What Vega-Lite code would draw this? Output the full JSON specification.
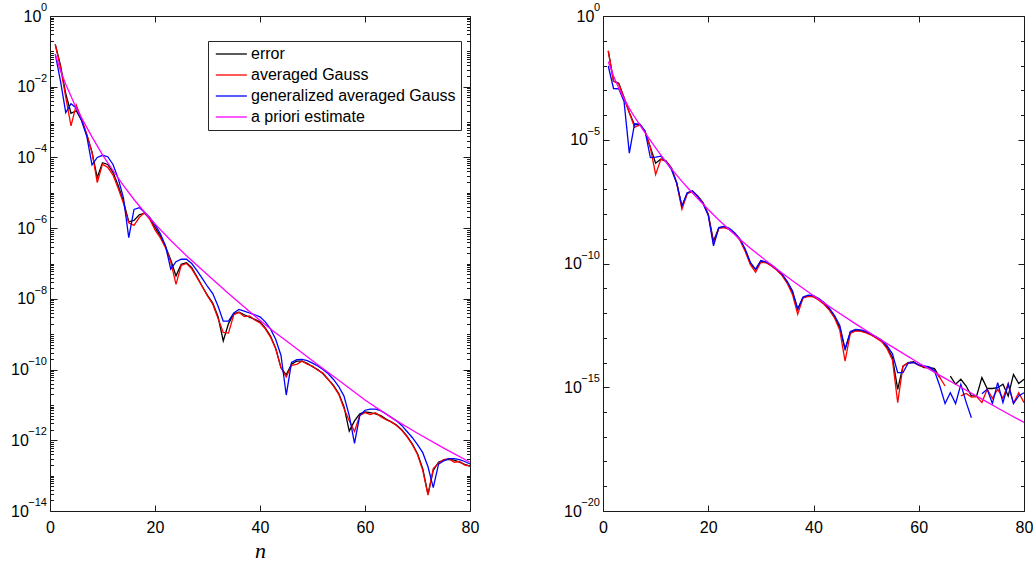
{
  "$schema": "https://vega.github.io/schema/vega-lite/v6.json",
  "background": "white",
  "padding": {"left": 10, "top": 2, "right": 0, "bottom": 0},
  "bounds": "flush",
  "spacing": 133,
  "config": {
    "font": "Liberation Sans",
    "view": {"stroke": null},
    "axis": {"grid": false, "labelFont": "Liberation Sans", "labelFontSize": 16, "labelColor": "#000000", "domainColor": "#1a1a1a", "tickColor": "#1a1a1a", "labelFlush": false, "labelOverlap": false, "labelBound": false},
    "legend": {"title": null, "symbolType": "M-1,0H5", "symbolSize": 107, "symbolStrokeWidth": 1.3, "labelFont": "Liberation Sans", "labelFontSize": 16, "labelColor": "#000000", "labelLimit": 400, "labelOffset": 22, "padding": 5, "rowPadding": 5, "strokeColor": "#262626", "fillColor": "#ffffff"}
  },
  "datasets": {
    "leftTicks": [
      {"v":1,"exp":"0"},{"v":1e-2,"exp":"−2"},{"v":1e-4,"exp":"−4"},{"v":1e-6,"exp":"−6"},
      {"v":1e-8,"exp":"−8"},{"v":1e-10,"exp":"−10"},{"v":1e-12,"exp":"−12"},{"v":1e-14,"exp":"−14"}
    ],
    "rightTicks": [
      {"v":1,"exp":"0"},{"v":1e-5,"exp":"−5"},{"v":1e-10,"exp":"−10"},{"v":1e-15,"exp":"−15"},{"v":1e-20,"exp":"−20"}
    ],
    "left": [
      {"n":1,"error":1.585e-1,"averaged Gauss":1.585e-1,"generalized averaged Gauss":8.318e-2},
      {"n":2,"error":3.981e-2,"averaged Gauss":3.548e-2,"generalized averaged Gauss":1.445e-2},
      {"n":3,"error":6.310e-3,"averaged Gauss":5.012e-3,"generalized averaged Gauss":1.862e-3},
      {"n":4,"error":1.778e-3,"averaged Gauss":7.762e-4,"generalized averaged Gauss":3.311e-3},
      {"n":5,"error":2.089e-3,"averaged Gauss":3.020e-3,"generalized averaged Gauss":2.512e-3},
      {"n":6,"error":1.122e-3,"averaged Gauss":1.259e-3,"generalized averaged Gauss":1.122e-3},
      {"n":7,"error":4.467e-4,"averaged Gauss":4.467e-4,"generalized averaged Gauss":3.981e-4},
      {"n":8,"error":1.413e-4,"averaged Gauss":1.413e-4,"generalized averaged Gauss":6.166e-5},
      {"n":9,"error":2.692e-5,"averaged Gauss":1.950e-5,"generalized averaged Gauss":1.000e-4},
      {"n":10,"error":7.079e-5,"averaged Gauss":6.457e-5,"generalized averaged Gauss":1.148e-4},
      {"n":11,"error":6.310e-5,"averaged Gauss":5.248e-5,"generalized averaged Gauss":1.047e-4},
      {"n":12,"error":3.802e-5,"averaged Gauss":3.162e-5,"generalized averaged Gauss":6.310e-5},
      {"n":13,"error":1.585e-5,"averaged Gauss":1.318e-5,"generalized averaged Gauss":2.512e-5},
      {"n":14,"error":5.623e-6,"averaged Gauss":5.012e-6,"generalized averaged Gauss":7.079e-6},
      {"n":15,"error":1.514e-6,"averaged Gauss":1.413e-6,"generalized averaged Gauss":5.370e-7},
      {"n":16,"error":1.660e-6,"averaged Gauss":1.202e-6,"generalized averaged Gauss":3.388e-6},
      {"n":17,"error":2.399e-6,"averaged Gauss":1.995e-6,"generalized averaged Gauss":3.802e-6},
      {"n":18,"error":2.630e-6,"averaged Gauss":2.754e-6,"generalized averaged Gauss":2.818e-6},
      {"n":19,"error":1.905e-6,"averaged Gauss":1.778e-6,"generalized averaged Gauss":1.995e-6},
      {"n":20,"error":1.047e-6,"averaged Gauss":8.913e-7,"generalized averaged Gauss":1.259e-6},
      {"n":21,"error":6.026e-7,"averaged Gauss":5.370e-7,"generalized averaged Gauss":7.079e-7},
      {"n":22,"error":3.020e-7,"averaged Gauss":2.818e-7,"generalized averaged Gauss":3.162e-7},
      {"n":23,"error":1.259e-7,"averaged Gauss":1.122e-7,"generalized averaged Gauss":6.918e-8},
      {"n":24,"error":4.467e-8,"averaged Gauss":2.570e-8,"generalized averaged Gauss":1.122e-7},
      {"n":25,"error":9.550e-8,"averaged Gauss":8.913e-8,"generalized averaged Gauss":1.318e-7},
      {"n":26,"error":1.047e-7,"averaged Gauss":1.000e-7,"generalized averaged Gauss":1.318e-7},
      {"n":27,"error":7.586e-8,"averaged Gauss":7.079e-8,"generalized averaged Gauss":1.000e-7},
      {"n":28,"error":4.169e-8,"averaged Gauss":3.981e-8,"generalized averaged Gauss":6.310e-8},
      {"n":29,"error":2.239e-8,"averaged Gauss":2.239e-8,"generalized averaged Gauss":3.802e-8},
      {"n":30,"error":1.259e-8,"averaged Gauss":1.202e-8,"generalized averaged Gauss":2.239e-8},
      {"n":31,"error":7.586e-9,"averaged Gauss":7.079e-9,"generalized averaged Gauss":1.413e-8},
      {"n":32,"error":3.162e-9,"averaged Gauss":2.818e-9,"generalized averaged Gauss":6.310e-9},
      {"n":33,"error":6.457e-10,"averaged Gauss":1.122e-9,"generalized averaged Gauss":2.344e-9},
      {"n":34,"error":1.995e-9,"averaged Gauss":1.072e-9,"generalized averaged Gauss":2.344e-9},
      {"n":35,"error":3.802e-9,"averaged Gauss":3.548e-9,"generalized averaged Gauss":3.981e-9},
      {"n":36,"error":4.169e-9,"averaged Gauss":4.169e-9,"generalized averaged Gauss":5.012e-9},
      {"n":37,"error":3.548e-9,"averaged Gauss":3.162e-9,"generalized averaged Gauss":4.467e-9},
      {"n":38,"error":3.020e-9,"averaged Gauss":3.311e-9,"generalized averaged Gauss":3.981e-9},
      {"n":39,"error":2.630e-9,"averaged Gauss":2.512e-9,"generalized averaged Gauss":3.548e-9},
      {"n":40,"error":2.239e-9,"averaged Gauss":2.089e-9,"generalized averaged Gauss":3.090e-9},
      {"n":41,"error":1.514e-9,"averaged Gauss":1.413e-9,"generalized averaged Gauss":2.239e-9},
      {"n":42,"error":8.913e-10,"averaged Gauss":8.318e-10,"generalized averaged Gauss":1.413e-9},
      {"n":43,"error":3.981e-10,"averaged Gauss":3.802e-10,"generalized averaged Gauss":7.079e-10},
      {"n":44,"error":1.122e-10,"averaged Gauss":1.122e-10,"generalized averaged Gauss":2.512e-10},
      {"n":45,"error":7.079e-11,"averaged Gauss":6.166e-11,"generalized averaged Gauss":1.905e-11},
      {"n":46,"error":1.413e-10,"averaged Gauss":1.318e-10,"generalized averaged Gauss":1.585e-10},
      {"n":47,"error":1.738e-10,"averaged Gauss":1.413e-10,"generalized averaged Gauss":1.905e-10},
      {"n":48,"error":1.738e-10,"averaged Gauss":1.738e-10,"generalized averaged Gauss":1.950e-10},
      {"n":49,"error":1.514e-10,"averaged Gauss":1.413e-10,"generalized averaged Gauss":1.778e-10},
      {"n":50,"error":1.202e-10,"averaged Gauss":1.259e-10,"generalized averaged Gauss":1.514e-10},
      {"n":51,"error":1.000e-10,"averaged Gauss":9.550e-11,"generalized averaged Gauss":1.259e-10},
      {"n":52,"error":7.586e-11,"averaged Gauss":7.943e-11,"generalized averaged Gauss":1.000e-10},
      {"n":53,"error":5.248e-11,"averaged Gauss":5.248e-11,"generalized averaged Gauss":7.586e-11},
      {"n":54,"error":3.548e-11,"averaged Gauss":3.388e-11,"generalized averaged Gauss":5.248e-11},
      {"n":55,"error":2.089e-11,"averaged Gauss":1.995e-11,"generalized averaged Gauss":3.311e-11},
      {"n":56,"error":8.913e-12,"averaged Gauss":7.943e-12,"generalized averaged Gauss":1.778e-11},
      {"n":57,"error":1.820e-12,"averaged Gauss":3.548e-12,"generalized averaged Gauss":5.012e-12},
      {"n":58,"error":3.548e-12,"averaged Gauss":1.778e-12,"generalized averaged Gauss":8.128e-13},
      {"n":59,"error":5.623e-12,"averaged Gauss":5.012e-12,"generalized averaged Gauss":5.012e-12},
      {"n":60,"error":6.310e-12,"averaged Gauss":6.026e-12,"generalized averaged Gauss":7.079e-12},
      {"n":61,"error":6.026e-12,"averaged Gauss":5.370e-12,"generalized averaged Gauss":7.586e-12},
      {"n":62,"error":5.623e-12,"averaged Gauss":6.026e-12,"generalized averaged Gauss":7.586e-12},
      {"n":63,"error":5.012e-12,"averaged Gauss":4.677e-12,"generalized averaged Gauss":6.918e-12},
      {"n":64,"error":3.981e-12,"averaged Gauss":3.802e-12,"generalized averaged Gauss":5.623e-12},
      {"n":65,"error":3.311e-12,"averaged Gauss":3.311e-12,"generalized averaged Gauss":4.467e-12},
      {"n":66,"error":2.692e-12,"averaged Gauss":2.630e-12,"generalized averaged Gauss":3.548e-12},
      {"n":67,"error":1.995e-12,"averaged Gauss":1.905e-12,"generalized averaged Gauss":2.630e-12},
      {"n":68,"error":1.318e-12,"averaged Gauss":1.259e-12,"generalized averaged Gauss":1.778e-12},
      {"n":69,"error":7.943e-13,"averaged Gauss":7.586e-13,"generalized averaged Gauss":1.202e-12},
      {"n":70,"error":4.169e-13,"averaged Gauss":3.981e-13,"generalized averaged Gauss":7.586e-13},
      {"n":71,"error":1.585e-13,"averaged Gauss":1.413e-13,"generalized averaged Gauss":4.467e-13},
      {"n":72,"error":2.951e-14,"averaged Gauss":2.818e-14,"generalized averaged Gauss":1.778e-13},
      {"n":73,"error":1.413e-13,"averaged Gauss":1.585e-13,"generalized averaged Gauss":4.571e-14},
      {"n":74,"error":2.399e-13,"averaged Gauss":2.239e-13,"generalized averaged Gauss":2.089e-13},
      {"n":75,"error":2.754e-13,"averaged Gauss":2.818e-13,"generalized averaged Gauss":2.630e-13},
      {"n":76,"error":2.884e-13,"averaged Gauss":3.020e-13,"generalized averaged Gauss":3.020e-13},
      {"n":77,"error":2.754e-13,"averaged Gauss":2.399e-13,"generalized averaged Gauss":3.020e-13},
      {"n":78,"error":2.399e-13,"averaged Gauss":2.512e-13,"generalized averaged Gauss":2.818e-13},
      {"n":79,"error":2.089e-13,"averaged Gauss":1.995e-13,"generalized averaged Gauss":2.512e-13},
      {"n":80,"error":1.862e-13,"averaged Gauss":1.862e-13,"generalized averaged Gauss":2.138e-13}
    ],
    "leftEst": [
      {"n":1,"a priori estimate":8.318e-2},
      {"n":2,"a priori estimate":2.818e-2},
      {"n":3,"a priori estimate":1.175e-2},
      {"n":4,"a priori estimate":5.370e-3},
      {"n":5,"a priori estimate":2.512e-3},
      {"n":6,"a priori estimate":1.318e-3},
      {"n":8,"a priori estimate":3.802e-4},
      {"n":10,"a priori estimate":1.175e-4},
      {"n":12,"a priori estimate":4.266e-5},
      {"n":14,"a priori estimate":1.585e-5},
      {"n":16,"a priori estimate":6.457e-6},
      {"n":18,"a priori estimate":2.818e-6},
      {"n":20,"a priori estimate":1.318e-6},
      {"n":23,"a priori estimate":4.467e-7},
      {"n":26,"a priori estimate":1.660e-7},
      {"n":30,"a priori estimate":4.786e-8},
      {"n":34,"a priori estimate":1.413e-8},
      {"n":38,"a priori estimate":4.365e-9},
      {"n":42,"a priori estimate":1.413e-9},
      {"n":46,"a priori estimate":5.012e-10},
      {"n":50,"a priori estimate":1.778e-10},
      {"n":55,"a priori estimate":5.012e-11},
      {"n":60,"a priori estimate":1.380e-11},
      {"n":65,"a priori estimate":4.365e-12},
      {"n":70,"a priori estimate":1.585e-12},
      {"n":75,"a priori estimate":6.026e-13},
      {"n":80,"a priori estimate":2.399e-13}
    ],
    "right": [
      {"n":1,"error":3.890e-2,"averaged Gauss":3.890e-2,"generalized averaged Gauss":9.550e-3},
      {"n":2,"error":2.344e-3,"averaged Gauss":2.344e-3,"generalized averaged Gauss":1.175e-3},
      {"n":3,"error":1.905e-3,"averaged Gauss":1.738e-3,"generalized averaged Gauss":1.148e-3},
      {"n":4,"error":5.012e-4,"averaged Gauss":5.012e-4,"generalized averaged Gauss":3.548e-4},
      {"n":5,"error":1.259e-4,"averaged Gauss":1.230e-4,"generalized averaged Gauss":2.884e-6},
      {"n":6,"error":3.981e-5,"averaged Gauss":3.162e-5,"generalized averaged Gauss":4.467e-5},
      {"n":7,"error":4.169e-5,"averaged Gauss":3.981e-5,"generalized averaged Gauss":4.266e-5},
      {"n":8,"error":2.138e-5,"averaged Gauss":2.138e-5,"generalized averaged Gauss":2.239e-5},
      {"n":9,"error":5.012e-6,"averaged Gauss":4.786e-6,"generalized averaged Gauss":1.905e-6},
      {"n":10,"error":1.122e-6,"averaged Gauss":3.981e-7,"generalized averaged Gauss":1.995e-6},
      {"n":11,"error":1.660e-6,"averaged Gauss":1.622e-6,"generalized averaged Gauss":2.188e-6},
      {"n":12,"error":1.380e-6,"averaged Gauss":1.380e-6,"generalized averaged Gauss":1.259e-6},
      {"n":13,"error":7.413e-7,"averaged Gauss":7.079e-7,"generalized averaged Gauss":6.310e-7},
      {"n":14,"error":1.862e-7,"averaged Gauss":1.778e-7,"generalized averaged Gauss":1.778e-7},
      {"n":15,"error":1.905e-8,"averaged Gauss":1.549e-8,"generalized averaged Gauss":2.089e-8},
      {"n":16,"error":6.918e-8,"averaged Gauss":6.607e-8,"generalized averaged Gauss":7.244e-8},
      {"n":17,"error":8.511e-8,"averaged Gauss":7.943e-8,"generalized averaged Gauss":8.511e-8},
      {"n":18,"error":5.370e-8,"averaged Gauss":5.248e-8,"generalized averaged Gauss":5.012e-8},
      {"n":19,"error":2.884e-8,"averaged Gauss":2.818e-8,"generalized averaged Gauss":2.630e-8},
      {"n":20,"error":9.772e-9,"averaged Gauss":9.550e-9,"generalized averaged Gauss":8.913e-9},
      {"n":21,"error":7.943e-10,"averaged Gauss":6.310e-10,"generalized averaged Gauss":5.129e-10},
      {"n":22,"error":2.754e-9,"averaged Gauss":2.630e-9,"generalized averaged Gauss":2.818e-9},
      {"n":23,"error":3.020e-9,"averaged Gauss":2.818e-9,"generalized averaged Gauss":3.162e-9},
      {"n":24,"error":2.512e-9,"averaged Gauss":2.399e-9,"generalized averaged Gauss":2.630e-9},
      {"n":25,"error":1.622e-9,"averaged Gauss":1.585e-9,"generalized averaged Gauss":1.738e-9},
      {"n":26,"error":9.550e-10,"averaged Gauss":8.913e-10,"generalized averaged Gauss":1.000e-9},
      {"n":27,"error":3.548e-10,"averaged Gauss":3.162e-10,"generalized averaged Gauss":3.981e-10},
      {"n":28,"error":1.000e-10,"averaged Gauss":8.913e-11,"generalized averaged Gauss":1.122e-10},
      {"n":29,"error":5.754e-11,"averaged Gauss":4.467e-11,"generalized averaged Gauss":5.754e-11},
      {"n":30,"error":1.259e-10,"averaged Gauss":1.122e-10,"generalized averaged Gauss":1.318e-10},
      {"n":31,"error":1.122e-10,"averaged Gauss":1.072e-10,"generalized averaged Gauss":1.148e-10},
      {"n":32,"error":8.318e-11,"averaged Gauss":7.943e-11,"generalized averaged Gauss":8.913e-11},
      {"n":33,"error":5.623e-11,"averaged Gauss":5.495e-11,"generalized averaged Gauss":6.026e-11},
      {"n":34,"error":3.548e-11,"averaged Gauss":3.311e-11,"generalized averaged Gauss":3.802e-11},
      {"n":35,"error":1.778e-11,"averaged Gauss":1.585e-11,"generalized averaged Gauss":1.905e-11},
      {"n":36,"error":7.079e-12,"averaged Gauss":5.623e-12,"generalized averaged Gauss":7.943e-12},
      {"n":37,"error":1.413e-12,"averaged Gauss":8.913e-13,"generalized averaged Gauss":1.413e-12},
      {"n":38,"error":4.169e-12,"averaged Gauss":3.981e-12,"generalized averaged Gauss":4.467e-12},
      {"n":39,"error":5.012e-12,"averaged Gauss":4.677e-12,"generalized averaged Gauss":5.248e-12},
      {"n":40,"error":4.677e-12,"averaged Gauss":4.467e-12,"generalized averaged Gauss":5.012e-12},
      {"n":41,"error":3.548e-12,"averaged Gauss":3.311e-12,"generalized averaged Gauss":3.802e-12},
      {"n":42,"error":2.399e-12,"averaged Gauss":2.239e-12,"generalized averaged Gauss":2.630e-12},
      {"n":43,"error":1.413e-12,"averaged Gauss":1.318e-12,"generalized averaged Gauss":1.585e-12},
      {"n":44,"error":7.079e-13,"averaged Gauss":6.310e-13,"generalized averaged Gauss":7.943e-13},
      {"n":45,"error":2.512e-13,"averaged Gauss":1.995e-13,"generalized averaged Gauss":3.162e-13},
      {"n":46,"error":3.388e-14,"averaged Gauss":1.148e-14,"generalized averaged Gauss":3.388e-14},
      {"n":47,"error":1.622e-13,"averaged Gauss":1.514e-13,"generalized averaged Gauss":1.778e-13},
      {"n":48,"error":1.995e-13,"averaged Gauss":1.905e-13,"generalized averaged Gauss":2.188e-13},
      {"n":49,"error":1.905e-13,"averaged Gauss":1.820e-13,"generalized averaged Gauss":2.089e-13},
      {"n":50,"error":1.660e-13,"averaged Gauss":1.585e-13,"generalized averaged Gauss":1.778e-13},
      {"n":51,"error":1.318e-13,"averaged Gauss":1.259e-13,"generalized averaged Gauss":1.413e-13},
      {"n":52,"error":1.000e-13,"averaged Gauss":9.333e-14,"generalized averaged Gauss":1.072e-13},
      {"n":53,"error":7.413e-14,"averaged Gauss":6.761e-14,"generalized averaged Gauss":7.943e-14},
      {"n":54,"error":3.981e-14,"averaged Gauss":3.548e-14,"generalized averaged Gauss":4.677e-14},
      {"n":55,"error":1.585e-14,"averaged Gauss":1.259e-14,"generalized averaged Gauss":2.239e-14},
      {"n":56,"error":8.128e-16,"averaged Gauss":2.399e-16,"generalized averaged Gauss":3.890e-15},
      {"n":57,"error":7.079e-15,"averaged Gauss":7.079e-15,"generalized averaged Gauss":3.890e-15},
      {"n":58,"error":1.000e-14,"averaged Gauss":9.550e-15,"generalized averaged Gauss":9.550e-15},
      {"n":59,"error":1.072e-14,"averaged Gauss":1.000e-14,"generalized averaged Gauss":1.000e-14},
      {"n":60,"error":7.943e-15,"averaged Gauss":7.586e-15,"generalized averaged Gauss":7.943e-15},
      {"n":61,"error":6.166e-15,"averaged Gauss":6.607e-15,"generalized averaged Gauss":7.244e-15},
      {"n":62,"error":6.310e-15,"averaged Gauss":5.888e-15,"generalized averaged Gauss":6.607e-15},
      {"n":63,"error":5.623e-15,"averaged Gauss":4.677e-15,"generalized averaged Gauss":4.571e-15},
      {"n":64,"error":2.455e-15,"averaged Gauss":2.512e-15,"generalized averaged Gauss":1.122e-15},
      {"n":65,"error":null,"averaged Gauss":1.122e-15,"generalized averaged Gauss":2.188e-16},
      {"n":66,"error":2.818e-15,"averaged Gauss":null,"generalized averaged Gauss":6.026e-16},
      {"n":67,"error":1.318e-15,"averaged Gauss":null,"generalized averaged Gauss":2.188e-16},
      {"n":68,"error":2.089e-15,"averaged Gauss":4.467e-16,"generalized averaged Gauss":1.318e-15},
      {"n":69,"error":1.122e-15,"averaged Gauss":5.623e-16,"generalized averaged Gauss":2.512e-16},
      {"n":70,"error":4.467e-16,"averaged Gauss":3.981e-16,"generalized averaged Gauss":5.888e-17},
      {"n":71,"error":4.467e-16,"averaged Gauss":4.169e-16,"generalized averaged Gauss":null},
      {"n":72,"error":2.455e-15,"averaged Gauss":2.399e-16,"generalized averaged Gauss":5.495e-16},
      {"n":73,"error":8.913e-16,"averaged Gauss":8.318e-16,"generalized averaged Gauss":8.318e-16},
      {"n":74,"error":8.913e-16,"averaged Gauss":3.548e-16,"generalized averaged Gauss":2.188e-16},
      {"n":75,"error":9.550e-16,"averaged Gauss":8.318e-16,"generalized averaged Gauss":1.549e-15},
      {"n":76,"error":1.318e-15,"averaged Gauss":3.548e-16,"generalized averaged Gauss":2.399e-16},
      {"n":77,"error":4.467e-16,"averaged Gauss":1.413e-15,"generalized averaged Gauss":1.318e-15},
      {"n":78,"error":3.311e-15,"averaged Gauss":2.291e-16,"generalized averaged Gauss":2.188e-16},
      {"n":79,"error":1.413e-15,"averaged Gauss":6.026e-16,"generalized averaged Gauss":4.467e-16},
      {"n":80,"error":2.089e-15,"averaged Gauss":2.399e-16,"generalized averaged Gauss":6.026e-16}
    ],
    "rightEst": [
      {"n":1,"a priori estimate":1.413e-2},
      {"n":2,"a priori estimate":3.802e-3},
      {"n":3,"a priori estimate":1.202e-3},
      {"n":4,"a priori estimate":4.571e-4},
      {"n":5,"a priori estimate":1.862e-4},
      {"n":6,"a priori estimate":8.318e-5},
      {"n":7,"a priori estimate":3.981e-5},
      {"n":8,"a priori estimate":1.905e-5},
      {"n":9,"a priori estimate":9.333e-6},
      {"n":10,"a priori estimate":4.677e-6},
      {"n":11,"a priori estimate":2.399e-6},
      {"n":12,"a priori estimate":1.259e-6},
      {"n":13,"a priori estimate":6.761e-7},
      {"n":14,"a priori estimate":3.715e-7},
      {"n":15,"a priori estimate":2.089e-7},
      {"n":16,"a priori estimate":1.202e-7},
      {"n":18,"a priori estimate":4.169e-8},
      {"n":20,"a priori estimate":1.514e-8},
      {"n":22,"a priori estimate":5.754e-9},
      {"n":24,"a priori estimate":2.291e-9},
      {"n":26,"a priori estimate":9.550e-10},
      {"n":28,"a priori estimate":4.169e-10},
      {"n":30,"a priori estimate":1.905e-10},
      {"n":33,"a priori estimate":6.026e-11},
      {"n":36,"a priori estimate":1.995e-11},
      {"n":40,"a priori estimate":5.012e-12},
      {"n":44,"a priori estimate":1.318e-12},
      {"n":48,"a priori estimate":3.631e-13},
      {"n":52,"a priori estimate":1.047e-13},
      {"n":56,"a priori estimate":3.162e-14},
      {"n":60,"a priori estimate":9.550e-15},
      {"n":64,"a priori estimate":3.020e-15},
      {"n":68,"a priori estimate":1.000e-15},
      {"n":72,"a priori estimate":3.311e-16},
      {"n":76,"a priori estimate":1.096e-16},
      {"n":80,"a priori estimate":3.802e-17}
    ]
  },
  "hconcat": [
    {
      "width": 420,
      "height": 495,
      "layer": [
        {
          "data": {"name": "left"},
          "transform": [{"fold": ["error", "averaged Gauss", "generalized averaged Gauss"], "as": ["series", "value"]}],
          "mark": {"type": "line", "strokeWidth": 1.3, "invalid": "break-paths-filter-domains"},
          "encoding": {
            "x": {"field": "n", "type": "quantitative", "scale": {"domain": [0, 80], "nice": false},
                  "axis": {"orient": "bottom", "values": [0, 20, 40, 60, 80], "tickSize": -6, "labelPadding": 14, "title": "n", "titleFont": "Liberation Serif", "titleFontStyle": "italic", "titleFontWeight": "normal", "titleFontSize": 22, "titleColor": "#000000", "titlePadding": 5}},
            "y": {"field": "value", "type": "quantitative", "scale": {"type": "log", "domain": [1e-14, 1], "nice": false},
                  "axis": {"orient": "left", "tickCount": 200, "title": null,
                           "labelPadding": {"condition": [{"test": "datum.value > 0.5", "value": 16.1}, {"test": "datum.value > 5e-10", "value": 22.5}], "value": 28.7},
                           "tickSize": {"condition": {"test": "abs(log(datum.value)/LN10 - round(log(datum.value)/LN10)) < 0.001 && round(log(datum.value)/LN10) % 2 == 0", "value": -7}, "value": -3.5},
                           "labelExpr": "abs(log(datum.value)/LN10 - round(log(datum.value)/LN10)) < 0.001 && round(log(datum.value)/LN10) % 2 == 0 ? '10' : ''"}},
            "color": {"field": "series", "type": "nominal",
                      "scale": {"domain": ["error", "averaged Gauss", "generalized averaged Gauss", "a priori estimate"], "range": ["#000000", "#ff0000", "#0000ff", "#ff00ff"]},
                      "legend": {"orient": "none", "legendX": 158, "legendY": 25}}
          }
        },
        {
          "data": {"name": "leftEst"},
          "transform": [{"fold": ["a priori estimate"], "as": ["series", "value"]}],
          "mark": {"type": "line", "strokeWidth": 1.3},
          "encoding": {
            "x": {"field": "n", "type": "quantitative", "scale": {"domain": [0, 80], "nice": false},
                  "axis": {"orient": "top", "values": [0, 20, 40, 60, 80], "tickSize": -6, "labels": false, "title": null}},
            "y": {"field": "value", "type": "quantitative", "scale": {"type": "log", "domain": [1e-14, 1], "nice": false},
                  "axis": {"orient": "right", "tickCount": 200, "labels": false, "title": null,
                           "tickSize": {"condition": {"test": "abs(log(datum.value)/LN10 - round(log(datum.value)/LN10)) < 0.001 && round(log(datum.value)/LN10) % 2 == 0", "value": -7}, "value": -3.5}}},
            "color": {"field": "series", "type": "nominal",
                      "scale": {"domain": ["error", "averaged Gauss", "generalized averaged Gauss", "a priori estimate"], "range": ["#000000", "#ff0000", "#0000ff", "#ff00ff"]},
                      "legend": {"orient": "none", "legendX": 158, "legendY": 25}}
          }
        },
        {
          "data": {"name": "leftTicks"},
          "mark": {"type": "text", "align": "right", "baseline": "middle", "dx": -3, "dy": -8, "fontSize": 11, "font": "Liberation Sans", "color": "#000000"},
          "encoding": {
            "x": {"datum": 0, "type": "quantitative", "scale": {"domain": [0, 80], "nice": false}, "axis": null},
            "y": {"field": "v", "type": "quantitative", "scale": {"type": "log", "domain": [1e-14, 1], "nice": false}, "axis": null},
            "text": {"field": "exp", "type": "nominal"}
          }
        }
      ],
      "resolve": {"axis": {"x": "independent", "y": "independent"}}
    },
    {
      "width": 421,
      "height": 495,
      "layer": [
        {
          "data": {"name": "right"},
          "transform": [{"fold": ["error", "averaged Gauss", "generalized averaged Gauss"], "as": ["series", "value"]}],
          "mark": {"type": "line", "strokeWidth": 1.3, "invalid": "break-paths-filter-domains"},
          "encoding": {
            "x": {"field": "n", "type": "quantitative", "scale": {"domain": [0, 80], "nice": false},
                  "axis": {"orient": "bottom", "values": [0, 20, 40, 60, 80], "tickSize": -6, "labelPadding": 14, "title": null}},
            "y": {"field": "value", "type": "quantitative", "scale": {"type": "log", "domain": [1e-20, 1], "nice": false},
                  "axis": {"orient": "left", "values": [1, 1e-1, 1e-2, 1e-3, 1e-4, 1e-5, 1e-6, 1e-7, 1e-8, 1e-9, 1e-10, 1e-11, 1e-12, 1e-13, 1e-14, 1e-15, 1e-16, 1e-17, 1e-18, 1e-19, 1e-20], "title": null,
                           "labelPadding": {"condition": [{"test": "datum.value > 0.5", "value": 15.1}, {"test": "datum.value > 5e-6", "value": 21.5}], "value": 27.7},
                           "tickSize": {"condition": {"test": "round(log(datum.value)/LN10) % 5 == 0", "value": -6}, "value": -3.5},
                           "labelExpr": "round(log(datum.value)/LN10) % 5 == 0 ? '10' : ''"}},
            "color": {"field": "series", "type": "nominal",
                      "scale": {"domain": ["error", "averaged Gauss", "generalized averaged Gauss", "a priori estimate"], "range": ["#000000", "#ff0000", "#0000ff", "#ff00ff"]},
                      "legend": null}
          }
        },
        {
          "data": {"name": "rightEst"},
          "transform": [{"fold": ["a priori estimate"], "as": ["series", "value"]}],
          "mark": {"type": "line", "strokeWidth": 1.3},
          "encoding": {
            "x": {"field": "n", "type": "quantitative", "scale": {"domain": [0, 80], "nice": false},
                  "axis": {"orient": "top", "values": [0, 20, 40, 60, 80], "tickSize": -6, "labels": false, "title": null}},
            "y": {"field": "value", "type": "quantitative", "scale": {"type": "log", "domain": [1e-20, 1], "nice": false},
                  "axis": {"orient": "right", "values": [1, 1e-1, 1e-2, 1e-3, 1e-4, 1e-5, 1e-6, 1e-7, 1e-8, 1e-9, 1e-10, 1e-11, 1e-12, 1e-13, 1e-14, 1e-15, 1e-16, 1e-17, 1e-18, 1e-19, 1e-20], "labels": false, "title": null,
                           "tickSize": {"condition": {"test": "round(log(datum.value)/LN10) % 5 == 0", "value": -6}, "value": -3.5}}},
            "color": {"field": "series", "type": "nominal",
                      "scale": {"domain": ["error", "averaged Gauss", "generalized averaged Gauss", "a priori estimate"], "range": ["#000000", "#ff0000", "#0000ff", "#ff00ff"]},
                      "legend": null}
          }
        },
        {
          "data": {"name": "rightTicks"},
          "mark": {"type": "text", "align": "right", "baseline": "middle", "dx": -3, "dy": -8, "fontSize": 11, "font": "Liberation Sans", "color": "#000000"},
          "encoding": {
            "x": {"datum": 0, "type": "quantitative", "scale": {"domain": [0, 80], "nice": false}, "axis": null},
            "y": {"field": "v", "type": "quantitative", "scale": {"type": "log", "domain": [1e-20, 1], "nice": false}, "axis": null},
            "text": {"field": "exp", "type": "nominal"}
          }
        }
      ],
      "resolve": {"axis": {"x": "independent", "y": "independent"}}
    }
  ],
  "resolve": {"scale": {"color": "independent"}, "legend": {"color": "independent"}}
}
